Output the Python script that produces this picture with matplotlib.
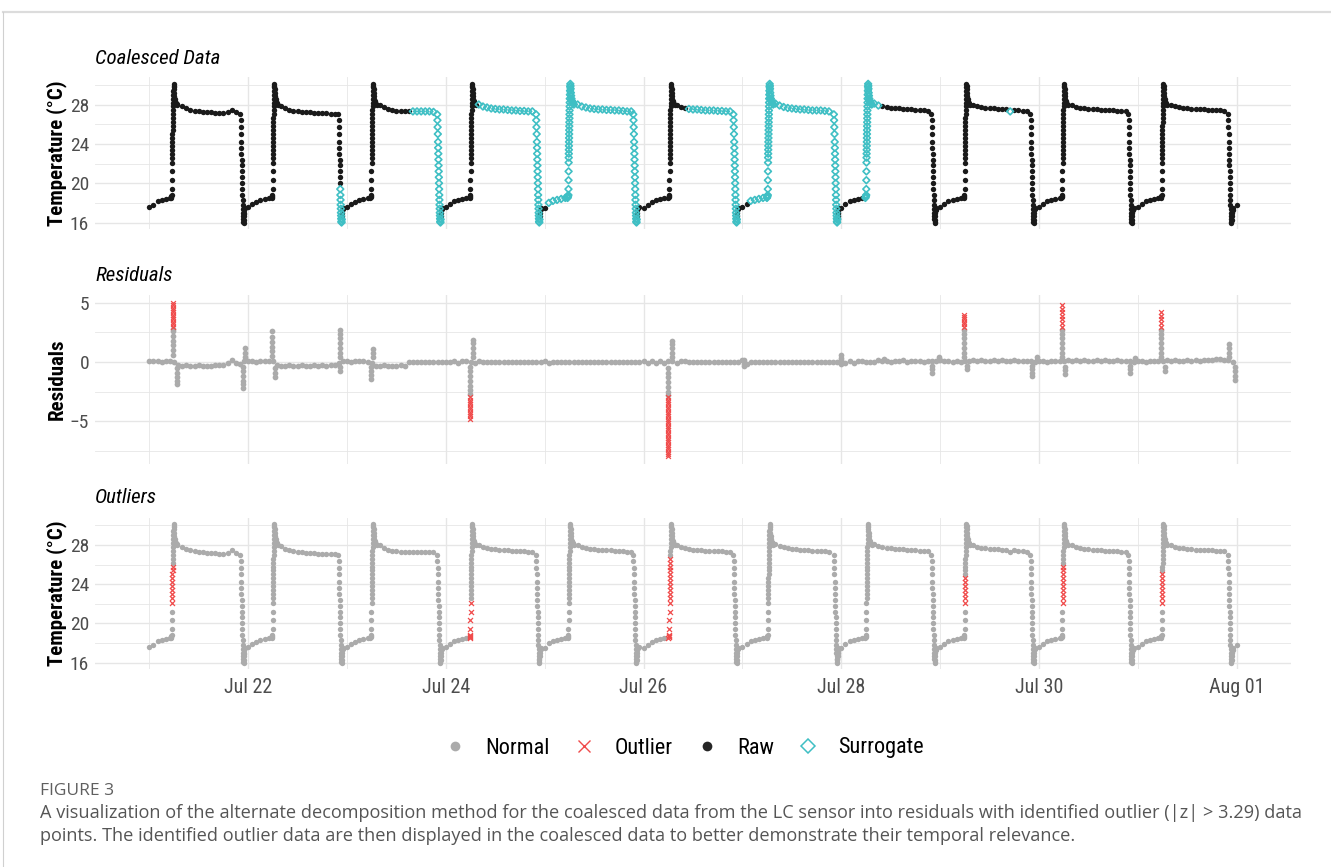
import numpy as np
import pandas as pd
import matplotlib
matplotlib.use('Agg')
import matplotlib.pyplot as plt
from matplotlib.lines import Line2D
from matplotlib import font_manager as fm

W, H = 1331, 867

# ---------- fonts ----------
have = {f.name for f in fm.fontManager.ttflist}
CHART = [f for f in ['Liberation Sans Narrow', 'Roboto Condensed', 'Liberation Sans'] if f in have][0]
CAPF = [f for f in ['Open Sans', 'Lato', 'DejaVu Sans'] if f in have][0]
plt.rcParams['font.family'] = [CHART, 'DejaVu Sans']

# ---------- data ----------
days = ['2021-07-21', '2021-07-22', '2021-07-23', '2021-07-24', '2021-07-25', '2021-07-26',
        '2021-07-27', '2021-07-28', '2021-07-29', '2021-07-30', '2021-07-31']
rise_start = [5.45, 5.9, 5.9, 5.95, 5.75, 6.25, 6.15, 6.05, 5.9, 5.65, 5.75]   # hour of day
fall_start = [22.1, 21.9, 21.9, 21.9, 21.5, 21.8, 22.2, 21.9, 21.9, 21.7, 21.9]

# morning heat-up (minutes after start) and evening cool-down
rise_offset = [-12, -8, -4, 0, 1, 2, 3, 4, 5, 6, 7, 8, 9, 10, 11, 12, 13, 14, 15, 16, 17, 18, 19, 20,
               22, 24, 26, 28, 30, 33, 36, 40, 45, 50, 55, 60, 70, 80]
rise_temp = [18.5, 18.6, 18.7, 18.8, 19.4, 20.3, 21.2, 22.1, 22.6, 23.0, 23.4, 23.8, 24.2, 24.6,
             25.0, 25.4, 25.8, 26.2, 26.6, 27.0, 27.4, 27.8, 28.2, 28.6, 29.0, 29.4, 29.8, 30.1,
             29.9, 29.6, 29.2, 28.9, 28.6, 28.4, 28.3, 28.2, 28.1, 28.0]
fall_offset = [0, 3, 6, 9, 12, 14, 16, 18, 20, 22, 24, 26, 28, 30, 32, 34, 36, 38, 40, 42, 44,
               47, 50, 53, 56, 60, 65]
fall_temp = [27.0, 26.4, 25.7, 25.0, 24.2, 23.6, 23.0, 22.4, 21.8, 21.2, 20.6, 20.0, 19.4, 18.8,
             18.3, 17.8, 17.4, 17.0, 16.7, 16.4, 16.1, 16.0, 16.3, 16.7, 17.0, 17.3, 17.5]

# hourly readings (None = inside a transition, given above)
temp_jul21 = [17.6, 17.8, 18.2, 18.3, 18.4, 18.5, None, None, 27.8, 27.6, 27.45, 27.35, 27.3, 27.25,
              27.2, 27.2, 27.15, 27.1, 27.1, 27.2, 27.45, 27.2, None, 16.9]
temp_jul22 = [17.6, 17.9, 18.1, 18.3, 18.4, 18.5, None, None, 27.9, 27.6, 27.45, 27.35, 27.3, 27.25,
              27.2, 27.2, 27.15, 27.1, 27.1, 27.1, 27.05, 27.05, None, 17.4]
temp_jul23 = [17.6, 17.9, 18.1, 18.3, 18.4, 18.5, None, None, 28.0, 27.7, 27.5, 27.4, 27.35, 27.3,
              27.3, 27.3, 27.3, 27.3, 27.3, 27.3, 27.3, 27.25, None, 17.4]
temp_jul24 = [17.6, 17.9, 18.2, 18.3, 18.4, 18.5, None, None, 28.0, 27.8, 27.7, 27.6, 27.55, 27.5,
              27.5, 27.45, 27.4, 27.4, 27.35, 27.35, 27.3, 27.3, None, 17.4]
temp_jul25 = [17.5, 18.0, 18.2, 18.3, 18.4, 18.5, None, None, 28.0, 27.8, 27.7, 27.6, 27.55, 27.5,
              27.5, 27.45, 27.45, 27.4, 27.4, 27.35, 27.3, 27.3, None, 17.6]
temp_jul26 = [17.5, 17.8, 18.1, 18.3, 18.4, 18.5, None, None, 28.0, 27.75, 27.65, 27.55, 27.5, 27.5,
              27.45, 27.4, 27.4, 27.4, 27.35, 27.35, 27.3, 27.3, None, 17.4]
temp_jul27 = [17.6, 17.9, 18.2, 18.3, 18.4, 18.5, None, None, 28.1, 27.9, 27.75, 27.65, 27.6, 27.55,
              27.5, 27.5, 27.45, 27.4, 27.4, 27.4, 27.35, 27.3, None, 16.4]
temp_jul28 = [17.5, 17.9, 18.2, 18.3, 18.4, 18.5, None, None, 28.1, 27.9, 27.8, 27.7, 27.65, 27.6,
              27.6, 27.55, 27.5, 27.5, 27.45, 27.4, 27.4, 27.35, None, 17.4]
temp_jul29 = [17.6, 17.9, 18.2, 18.3, 18.4, 18.5, None, None, 28.0, 27.8, 27.7, 27.65, 27.6, 27.6,
              27.55, 27.5, 27.5, 27.3, 27.45, 27.4, 27.35, 27.3, None, 17.4]
temp_jul30 = [17.6, 17.9, 18.2, 18.3, 18.4, 18.5, None, None, 28.0, 27.75, 27.65, 27.6, 27.55, 27.5,
              27.5, 27.45, 27.4, 27.4, 27.4, 27.35, 27.3, 27.3, None, 17.5]
temp_jul31 = [17.6, 17.9, 18.2, 18.3, 18.4, 18.5, None, None, 28.0, 27.8, 27.7, 27.65, 27.6, 27.55,
              27.5, 27.5, 27.5, 27.45, 27.45, 27.4, 27.4, 27.35, None, 17.3]
temp_hourly = [temp_jul21, temp_jul22, temp_jul23, temp_jul24, temp_jul25, temp_jul26,
               temp_jul27, temp_jul28, temp_jul29, temp_jul30, temp_jul31]
end_time, end_temp = '2021-08-01 00:00', 17.8

# periods filled with surrogate data
surrogate_from = ['2021-07-22 22:21', '2021-07-23 15:20', '2021-07-24 07:50', '2021-07-25 00:50',
                  '2021-07-26 10:50', '2021-07-27 01:30', '2021-07-28 05:15', '2021-07-29 16:50']
surrogate_to = ['2021-07-22 22:45', '2021-07-23 22:45', '2021-07-24 22:45', '2021-07-25 22:21',
                '2021-07-26 22:39', '2021-07-27 23:03', '2021-07-28 09:10', '2021-07-29 17:10']

# temperature range of flagged points during each morning rise
outlier_lo = [22.1, None, None, 18.4, None, 18.4, None, None, 21.9, 22.1, 22.1]
outlier_hi = [26.0, None, None, 22.2, None, 26.7, None, None, 24.7, 25.8, 25.0]

# residuals, hourly
res_jul21 = [0.10, 0.05, 0.12, 0.02, 0.08, 0.05, 0.00, -0.25, -0.30, -0.28, -0.35, -0.30, -0.26, -0.32,
             -0.35, -0.30, -0.28, -0.25, -0.22, -0.05, 0.15, -0.10, -0.15, 0.05]
res_jul22 = [0.05, 0.12, 0.02, 0.10, 0.06, 0.12, 0.05, -0.25, -0.30, -0.32, -0.28, -0.35, -0.30, -0.27,
             -0.33, -0.30, -0.28, -0.32, -0.26, -0.30, -0.25, -0.22, -0.10, 0.08]
res_jul23 = [0.10, 0.04, 0.12, 0.06, 0.10, 0.02, -0.10, -0.30, -0.35, -0.28, -0.32, -0.36, -0.30, -0.26,
             -0.32, 0.0, 0.0, 0.0, 0.0, 0.0, 0.0, 0.0, 0.0, 0.0]
res_jul24 = [0.0, 0.0, 0.08, -0.05, 0.10, 0.05, 0.0, -0.10, 0.10, 0.0, 0.0, 0.0, 0.0, 0.0,
             0.0, 0.0, 0.0, 0.0, 0.0, 0.0, 0.0, 0.0, 0.0, 0.0]
res_jul25 = [0.10, -0.08, 0.0, 0.0, 0.0, 0.0, 0.0, 0.0, 0.0, 0.0, 0.0, 0.0, 0.0, 0.0,
             0.0, 0.0, 0.0, 0.0, 0.0, 0.0, 0.0, 0.0, 0.0, 0.0]
res_jul26 = [0.05, -0.10, 0.10, -0.05, 0.12, -0.08, 0.10, 0.08, -0.05, 0.10, 0.05, 0.0, 0.0, 0.0,
             0.0, 0.0, 0.0, 0.0, 0.0, 0.0, 0.0, 0.0, 0.0, 0.0]
res_jul27 = [0.15, -0.15, 0.0, 0.0, 0.0, 0.0, 0.0, 0.0, 0.0, 0.0, 0.0, 0.0, 0.0, 0.0,
             0.0, 0.0, 0.0, 0.0, 0.0, 0.0, 0.0, 0.0, 0.0, 0.0]
res_jul28 = [0.20, -0.10, 0.10, -0.05, 0.10, 0.05, 0.0, 0.0, 0.0, 0.15, 0.05, 0.12, 0.0, 0.10,
             0.05, 0.15, 0.02, 0.10, 0.06, 0.12, 0.0, 0.08, 0.05, 0.10]
res_jul29 = [0.15, 0.05, 0.10, 0.0, 0.08, 0.02, 0.05, 0.10, 0.15, 0.08, 0.20, 0.12, 0.05, 0.15,
             0.10, 0.18, 0.06, 0.12, 0.15, 0.08, 0.12, 0.05, 0.10, 0.0]
res_jul30 = [0.05, 0.10, 0.0, 0.08, 0.05, 0.12, 0.10, 0.18, 0.08, 0.15, 0.10, 0.20, 0.12, 0.06,
             0.15, 0.10, 0.18, 0.12, 0.08, 0.15, 0.10, 0.12, 0.05, 0.02]
res_jul31 = [0.05, 0.10, 0.02, 0.08, 0.12, 0.05, 0.10, 0.15, 0.10, 0.18, 0.12, 0.08, 0.15, 0.10,
             0.18, 0.12, 0.15, 0.20, 0.15, 0.22, 0.28, 0.20, 0.15, 0.0]
res_hourly = [res_jul21, res_jul22, res_jul23, res_jul24, res_jul25, res_jul26,
              res_jul27, res_jul28, res_jul29, res_jul30, res_jul31]

res_spike_time = ['2021-07-21 05:50', '2021-07-21 06:40', '2021-07-21 22:45', '2021-07-21 23:10',
                  '2021-07-22 05:45', '2021-07-22 06:30', '2021-07-22 22:20',
                  '2021-07-23 05:45', '2021-07-23 06:20', '2021-07-24 05:55', '2021-07-24 06:40',
                  '2021-07-26 06:00', '2021-07-26 06:50', '2021-07-27 00:20', '2021-07-27 23:55',
                  '2021-07-28 10:20', '2021-07-28 22:00', '2021-07-28 23:40',
                  '2021-07-29 05:50', '2021-07-29 06:35', '2021-07-29 22:20', '2021-07-29 23:25',
                  '2021-07-30 05:40', '2021-07-30 06:25', '2021-07-30 22:10', '2021-07-30 23:25',
                  '2021-07-31 05:40', '2021-07-31 06:30', '2021-07-31 22:05', '2021-07-31 23:30']
res_spike_vals = [
    [0.6, 1.0, 1.4, 1.8, 2.2, 2.6, 2.8, 3.0, 3.2, 3.4, 3.6, 3.8, 4.0, 4.2, 4.4, 4.6, 4.8, 5.0],
    [-0.5, -0.9, -1.3, -1.6, -1.9],
    [-0.4, -0.8, -1.2, -1.6, -1.9, -2.2],
    [0.4, 0.8, 1.2],
    [0.5, 0.9, 1.3, 1.7, 2.1, 2.6],
    [-0.5, -0.9, -1.3],
    [-0.4, -0.8, 0.4, 0.8, 1.2, 1.6, 2.0, 2.4, 2.7],
    [-0.4, -0.8, -1.1, -1.4],
    [0.4, 0.8, 1.1],
    [-0.4, -0.8, -1.2, -1.6, -2.0, -2.4, -2.7, -3.0, -3.2, -3.4, -3.6, -3.8, -4.0, -4.2, -4.4,
     -4.6, -4.8],
    [0.4, 0.8, 1.2, 1.6, 1.9],
    [-0.5, -0.9, -1.3, -1.7, -2.1, -2.5, -2.8, -3.0, -3.2, -3.4, -3.6, -3.8, -4.0, -4.2, -4.4,
     -4.6, -4.8, -5.0, -5.2, -5.4, -5.6, -5.8, -6.0, -6.2, -6.4, -6.6, -6.8, -7.0, -7.2, -7.4,
     -7.6, -7.8, -8.0],
    [0.4, 0.8, 1.2, 1.5, 1.8],
    [0.2, -0.2, -0.3],
    [0.3, 0.6, -0.2],
    [0.25],
    [-0.3, -0.6, -0.9],
    [0.2, 0.4],
    [0.4, 0.8, 1.2, 1.6, 2.0, 2.4, 2.7, 3.0, 3.2, 3.4, 3.6, 3.8, 4.0],
    [-0.3, -0.6],
    [-0.3, -0.6, -0.9, -1.2],
    [0.2, 0.45],
    [0.4, 0.8, 1.2, 1.6, 2.0, 2.4, 2.7, 3.0, 3.3, 3.6, 3.9, 4.2, 4.5, 4.8],
    [-0.4, -0.7, -1.0],
    [-0.3, -0.6, -0.9],
    [0.2, 0.35],
    [0.4, 0.8, 1.2, 1.6, 2.0, 2.4, 2.7, 3.0, 3.3, 3.6, 3.9, 4.2],
    [-0.4, -0.8],
    [0.4, 0.8, 1.2, 1.5],
    [-0.4, -0.8, -1.2, -1.5],
]
RES_LIMIT = 2.85

xtick_dates = ['2021-07-22', '2021-07-24', '2021-07-26', '2021-07-28', '2021-07-30', '2021-08-01']
xtick_labels = ['Jul 22', 'Jul 24', 'Jul 26', 'Jul 28', 'Jul 30', 'Aug 01']
xminor_dates = ['2021-07-21', '2021-07-23', '2021-07-25', '2021-07-27', '2021-07-29', '2021-07-31']

# ---------- assemble series ----------
rows = []
for d, day in enumerate(days):
    t0 = pd.Timestamp(day)
    for h, v in enumerate(temp_hourly[d]):
        if v is not None:
            rows.append((t0 + pd.Timedelta(hours=h), v, d, False))
    for m, v in zip(rise_offset, rise_temp):
        rows.append((t0 + pd.Timedelta(hours=rise_start[d]) + pd.Timedelta(minutes=m), v, d, True))
    for m, v in zip(fall_offset, fall_temp):
        rows.append((t0 + pd.Timedelta(hours=fall_start[d]) + pd.Timedelta(minutes=m), v, d, False))
rows.append((pd.Timestamp(end_time), end_temp, 10, False))
temp = pd.DataFrame(rows, columns=['time', 'value', 'day', 'rise']).sort_values('time')

temp['surrogate'] = False
for a, b in zip(surrogate_from, surrogate_to):
    temp.loc[(temp.time >= pd.Timestamp(a)) & (temp.time <= pd.Timestamp(b)), 'surrogate'] = True
temp['outlier'] = False
for d in range(len(days)):
    if outlier_lo[d] is None:
        continue
    m = (temp.day == d) & temp.rise & (temp.value >= outlier_lo[d]) & (temp.value <= outlier_hi[d])
    temp.loc[m, 'outlier'] = True

rrows = []
for d, day in enumerate(days):
    t0 = pd.Timestamp(day)
    for h, v in enumerate(res_hourly[d]):
        rrows.append((t0 + pd.Timedelta(hours=h), v))
for t, vals in zip(res_spike_time, res_spike_vals):
    for v in vals:
        rrows.append((pd.Timestamp(t), v))
res = pd.DataFrame(rrows, columns=['time', 'value'])
res['outlier'] = res.value.abs() > RES_LIMIT

# ---------- figure ----------
C_NORMAL, C_OUT, C_RAW, C_SUR = '#ABABAB', '#F04B4B', '#1A1A1A', '#3FBFC4'
GRID = '#E6E6E6'

fig = plt.figure(figsize=(W / 100, H / 100), dpi=100)


def px_axes(left, top, right, bottom):
    return fig.add_axes([left / W, 1 - bottom / H, (right - left) / W, (bottom - top) / H])


xlim = (pd.Timestamp('2021-07-21') - pd.Timedelta(days=0.553),
        pd.Timestamp('2021-08-01') + pd.Timedelta(days=0.553))

ax1 = px_axes(94.6, 77.0, 1291.4, 229.4)
ax2 = px_axes(94.6, 295.3, 1291.4, 464.1)
ax3 = px_axes(94.6, 517.6, 1291.4, 669.4)

for ax in (ax1, ax2, ax3):
    ax.set_xlim(*xlim)
    for s in ax.spines.values():
        s.set_visible(False)
    ax.set_xticks([pd.Timestamp(t) for t in xtick_dates])
    ax.set_xticks([pd.Timestamp(t) for t in xminor_dates], minor=True)
    ax.grid(which='major', color=GRID, lw=1.0)
    ax.grid(which='minor', color=GRID, lw=0.6)
    ax.set_axisbelow(True)
    ax.tick_params(which='both', length=0, labelsize=14, labelcolor='#4D4D4D', pad=4)

for ax in (ax1, ax3):
    ax.set_ylim(15.3, 30.8)
    ax.set_yticks([16, 20, 24, 28])
    ax.set_yticks([18, 22, 26, 30], minor=True)
ax2.set_ylim(-8.65, 5.65)
ax2.set_yticks([-5, 0, 5])
ax2.set_yticks([-7.5, -2.5, 2.5], minor=True)
ax1.set_xticklabels([])
ax2.set_xticklabels([])
ax3.set_xticklabels(xtick_labels)
ax3.tick_params(axis='x', labelsize=14.5, pad=6)

PS = 15
# Coalesced data
raw = temp[~temp.surrogate]
sur = temp[temp.surrogate]
ax1.scatter(raw.time, raw.value, s=PS, color=C_RAW, lw=0, zorder=3)
ax1.scatter(sur.time, sur.value, s=12, marker='D', facecolors='none', edgecolors=C_SUR,
            linewidths=1.2, zorder=3)

# Residuals
ok = res[~res.outlier]
bad = res[res.outlier]
ax2.scatter(ok.time, ok.value, s=17, color=C_NORMAL, lw=0, zorder=3)
ax2.scatter(bad.time, bad.value, s=12, marker='x', color=C_OUT, linewidths=0.9, zorder=3)

# Outliers
ok = temp[~temp.outlier]
bad = temp[temp.outlier]
ax3.scatter(ok.time, ok.value, s=PS, color=C_NORMAL, lw=0, zorder=3)
ax3.scatter(bad.time, bad.value, s=13, marker='x', color=C_OUT, linewidths=0.9, zorder=3)

for ax, lab in ((ax1, 'Temperature (°C)'), (ax2, 'Residuals'), (ax3, 'Temperature (°C)')):
    ax.set_ylabel(lab, fontsize=15, fontweight='bold', color='black')
    ax.yaxis.set_label_coords((67 - 94.6) / (1291.4 - 94.6), 0.5)

for txt, yb in (('Coalesced Data', 64), ('Residuals', 280.7), ('Outliers', 503)):
    fig.text(95 / W, 1 - yb / H, txt, fontsize=15, style='italic', color='black',
             ha='left', va='baseline')

handles = [
    Line2D([], [], ls='none', marker='o', ms=7, color=C_NORMAL, mew=0),
    Line2D([], [], ls='none', marker='x', ms=8, color=C_OUT, mew=1.0),
    Line2D([], [], ls='none', marker='o', ms=7, color='#262626', mew=0),
    Line2D([], [], ls='none', marker='D', ms=7, mfc='none', mec=C_SUR, mew=1.1),
]
fig.legend(handles, ['Normal', 'Outlier', 'Raw', 'Surrogate'], loc='center', ncol=4,
           bbox_to_anchor=(683 / W, 1 - 748 / H), frameon=False, fontsize=16,
           handletextpad=0.75, columnspacing=0.95, handlelength=1.2)

# ---------- caption and frame ----------
fig.add_artist(Line2D([3 / W, 1], [1 - 12 / H, 1 - 12 / H], transform=fig.transFigure,
                      color='#DCDCDC', lw=1.6))
fig.add_artist(Line2D([3 / W, 3 / W], [0, 1 - 12 / H], transform=fig.transFigure,
                      color='#D0D0D0', lw=0.8))
fig.text(40 / W, 1 - 795 / H, 'FIGURE 3', fontsize=12.5, color='#5F5F5F', family=CAPF,
         ha='left', va='baseline')
fig.text(40 / W, 1 - 818 / H,
         'A visualization of the alternate decomposition method for the coalesced data from the LC '
         'sensor into residuals with identified outlier (|z| > 3.29) data',
         fontsize=13.1, color='#555555', family=CAPF, ha='left', va='baseline')
fig.text(40 / W, 1 - 841 / H,
         'points. The identified outlier data are then displayed in the coalesced data to better '
         'demonstrate their temporal relevance.',
         fontsize=13.1, color='#555555', family=CAPF, ha='left', va='baseline')

fig.savefig('out.png', dpi=100)
